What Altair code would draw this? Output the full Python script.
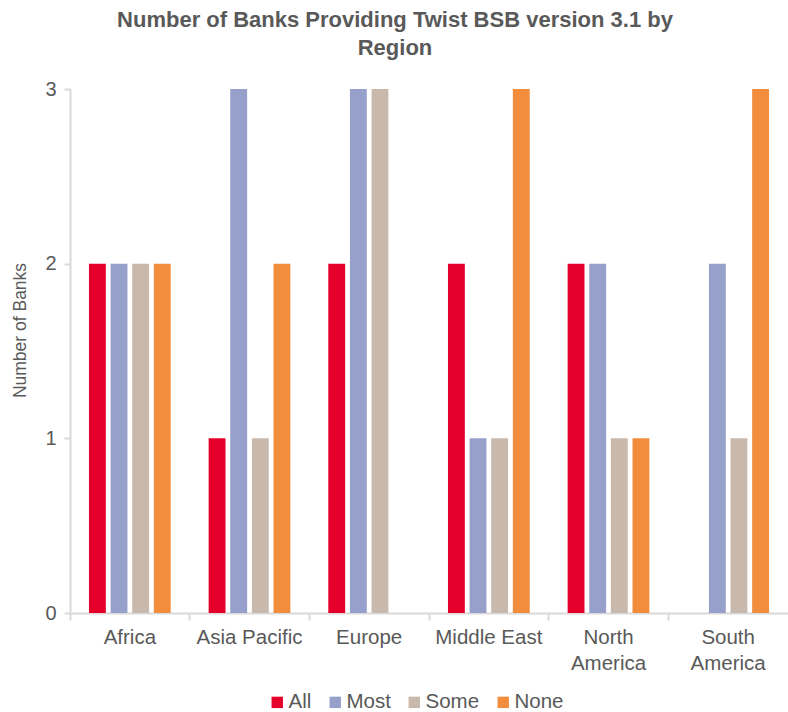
import altair as alt
import pandas as pd

regions = ["Africa", "Asia Pacific", "Europe", "Middle East", "North America", "South America"]
series = ["All", "Most", "Some", "None"]
colors = ["#E4002B", "#979FCB", "#C9B9AC", "#F18D3C"]
all_vals = [2, 1, 2, 2, 2, 0]
most_vals = [2, 3, 3, 1, 2, 2]
some_vals = [2, 1, 3, 1, 1, 1]
none_vals = [2, 2, 0, 3, 1, 3]

rows = []
for s, vals in zip(series, [all_vals, most_vals, some_vals, none_vals]):
    for r, v in zip(regions, vals):
        rows.append({"Region": r, "Series": s, "Banks": v})
df = pd.DataFrame(rows)

FONT = "Liberation Sans"
GREY = "#595959"
LINE = "#D9D9D9"

label_expr = ("datum.value == 'North America' ? ['North', 'America'] : "
              "datum.value == 'South America' ? ['South', 'America'] : datum.value")

PAD_IN = 0.317
W = 718
step = W / 6
band = step * (1 - PAD_IN)
half_gap = step * PAD_IN / 2
band_pos = -half_gap / band

xscale = alt.Scale(domain=regions, paddingInner=PAD_IN, paddingOuter=PAD_IN / 2)

chart = alt.Chart(df).mark_bar().encode(
    x=alt.X("Region:N", scale=xscale, sort=regions,
            axis=alt.Axis(title=None, labelAngle=0, labelExpr=label_expr,
                          ticks=True, bandPosition=band_pos,
                          tickColor=LINE, tickSize=7, tickWidth=2,
                          labelFontSize=20.5, labelColor=GREY, labelFont=FONT,
                          labelPadding=7, domainColor=LINE, domainWidth=2,
                          labelLineHeight=26)),
    xOffset=alt.XOffset("Series:N", sort=series,
                        scale=alt.Scale(domain=series, paddingInner=0.22, paddingOuter=0)),
    y=alt.Y("Banks:Q", scale=alt.Scale(domain=[0, 3], nice=False),
            axis=alt.Axis(title="Number of Banks", values=[0, 1, 2, 3], format="d",
                          grid=False, tickColor=LINE, tickSize=6, tickWidth=2,
                          domainColor=LINE, domainWidth=2,
                          labelFontSize=20, labelColor=GREY, labelFont=FONT, labelPadding=8,
                          titleFontSize=17.5, titleColor=GREY, titleFont=FONT,
                          titleFontWeight="normal", titlePadding=15, titleY=241)),
    color=alt.Color("Series:N", sort=series,
                    scale=alt.Scale(domain=series, range=colors),
                    legend=alt.Legend(title=None, orient="none", direction="horizontal",
                                      legendX=197, legendY=603,
                                      symbolType="square", symbolSize=130,
                                      symbolStrokeWidth=0, labelFontSize=20.5,
                                      labelColor=GREY, labelFont=FONT,
                                      columnPadding=13, labelOffset=1)),
).properties(
    width=W, height=524,
    title=alt.TitleParams(
        text=["Number of Banks Providing Twist BSB version 3.1 by", "Region"],
        fontSize=22, font=FONT, fontWeight="bold", color=GREY,
        anchor="middle", dx=-34, offset=19, lineHeight=28),
    padding={"left": 70, "top": 89, "right": 0, "bottom": 99},
    autosize="none",
).configure_view(stroke=None)

chart.save("out.html", embed_options={"renderer": "svg", "actions": False})
